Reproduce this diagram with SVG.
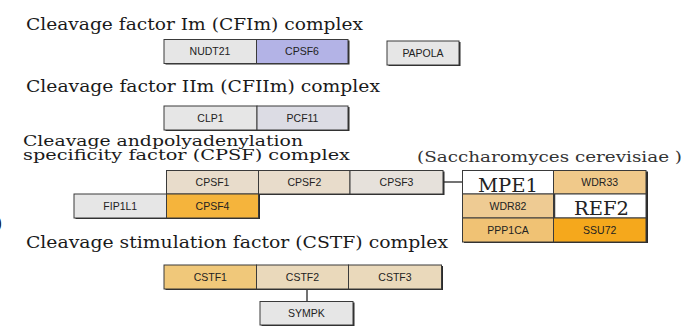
<svg xmlns="http://www.w3.org/2000/svg" width="695" height="335" viewBox="0 0 695 335">
<style>
.t{font-family:"DejaVu Serif","Liberation Serif",serif;font-size:16px;fill:#1a1a1a}
.t2{font-family:"DejaVu Serif","Liberation Serif",serif;font-size:15px;fill:#1a1a1a}
.sp{font-family:"DejaVu Serif","Liberation Serif",serif;font-size:14px;fill:#333}
.big{font-family:"DejaVu Serif","Liberation Serif",serif;font-size:18px;fill:#222;text-anchor:middle}
.lb{font-family:"Liberation Sans",Arial,sans-serif;font-size:10.5px;fill:#222;text-anchor:middle}
.b{stroke:#3a3a3a;stroke-width:1}
.sh{fill:#2a2a2a}
.gray{fill:#e6e6e6}
.c{stroke:#444;stroke-width:1.5;fill:none}
</style>
<rect width="695" height="335" fill="#ffffff"/>
<g id="titles">
<text class="t" x="26" y="29.5" textLength="337" lengthAdjust="spacingAndGlyphs">Cleavage factor Im (CFIm) complex</text>
<text class="t" x="26" y="92" textLength="354" lengthAdjust="spacingAndGlyphs">Cleavage factor IIm (CFIIm) complex</text>
<text class="t2" x="23" y="145.5" textLength="280" lengthAdjust="spacingAndGlyphs">Cleavage andpolyadenylation</text>
<text class="t2" x="23" y="159.5" textLength="327" lengthAdjust="spacingAndGlyphs">specificity factor (CPSF) complex</text>
<text class="sp" x="417" y="161.5" textLength="265" lengthAdjust="spacingAndGlyphs">(Saccharomyces cerevisiae )</text>
<text class="t" x="26" y="248" textLength="422" lengthAdjust="spacingAndGlyphs">Cleavage stimulation factor (CSTF) complex</text>
<text class="t" x="-4" y="229" font-size="18">)</text>
</g>
<g id="connectors">
<line class="c" x1="443" y1="182" x2="463" y2="182"/>
<line class="c" x1="307" y1="289" x2="307" y2="302"/>
</g>
<g id="cfim">
<rect class="sh" x="165.5" y="40.5" width="184" height="24"/>
<g id="NUDT21"><rect class="b gray" x="164" y="39.5" width="92.5" height="24"/><text class="lb" x="210" y="55">NUDT21</text></g>
<g id="CPSF6"><rect class="b" fill="#b3b3e6" x="256.5" y="39.5" width="91.5" height="24"/><text class="lb" x="302" y="55">CPSF6</text></g>
</g>
<g id="PAPOLA">
<rect class="sh" x="388.5" y="42" width="72" height="24"/>
<rect class="b gray" x="387" y="41" width="72" height="24"/><text class="lb" x="423" y="56.5">PAPOLA</text>
</g>
<g id="cfiim">
<rect class="sh" x="165.5" y="107" width="184" height="24"/>
<g id="CLP1"><rect class="b gray" x="164" y="106" width="93" height="24"/><text class="lb" x="210.5" y="121.5">CLP1</text></g>
<g id="PCF11"><rect class="b" fill="#dcdce4" x="257" y="106" width="91" height="24"/><text class="lb" x="302.5" y="121.5">PCF11</text></g>
</g>
<g id="cpsf">
<rect class="sh" x="168" y="171.5" width="276.5" height="23.5"/>
<rect class="sh" x="75.5" y="195" width="184.5" height="24"/>
<g id="CPSF1"><rect class="b" fill="#e8dccb" x="166.5" y="170.5" width="92" height="23.5"/><text class="lb" x="212.5" y="186">CPSF1</text></g>
<g id="CPSF2"><rect class="b" fill="#e8dccb" x="258.5" y="170.5" width="91.5" height="23.5"/><text class="lb" x="304.3" y="186">CPSF2</text></g>
<g id="CPSF3"><rect class="b" fill="#e6e1db" x="350" y="170.5" width="93" height="23.5"/><text class="lb" x="396.5" y="186">CPSF3</text></g>
<g id="FIP1L1"><rect class="b gray" x="74" y="194" width="92.5" height="24"/><text class="lb" x="120.3" y="209.5">FIP1L1</text></g>
<g id="CPSF4"><rect class="b" fill="#f5b43c" x="166.5" y="194" width="92" height="24"/><text class="lb" x="212.5" y="209.5">CPSF4</text></g>
</g>
<g id="yeast">
<rect class="sh" x="464" y="171.5" width="184" height="71.5"/>
<g id="MPE1"><rect class="b" fill="#ffffff" x="462.5" y="170.5" width="91" height="23.5"/><text class="big" x="508" y="192" textLength="60" lengthAdjust="spacingAndGlyphs">MPE1</text></g>
<g id="WDR33"><rect class="b" fill="#f0c98a" x="553.5" y="170.5" width="92.5" height="23.5"/><text class="lb" x="599.7" y="186">WDR33</text></g>
<g id="WDR82"><rect class="b" fill="#eecb93" x="462.5" y="194" width="91" height="24"/><text class="lb" x="508" y="209.5">WDR82</text></g>
<g id="REF2"><rect class="b" fill="#ffffff" x="553.5" y="194" width="92.5" height="24"/><line x1="554.5" y1="194" x2="554.5" y2="218" stroke="#3a3a3a" stroke-width="1.5"/><text class="big" x="601.5" y="214.5" textLength="55" lengthAdjust="spacingAndGlyphs">REF2</text></g>
<g id="PPP1CA"><rect class="b" fill="#f0c274" x="462.5" y="218" width="91" height="24"/><text class="lb" x="508" y="233.5">PPP1CA</text></g>
<g id="SSU72"><rect class="b" fill="#f5a81c" x="553.5" y="218" width="92.5" height="24"/><text class="lb" x="599.7" y="233.5">SSU72</text></g>
</g>
<g id="cstf">
<rect class="sh" x="165.5" y="266" width="277.5" height="24"/>
<g id="CSTF1"><rect class="b" fill="#f0c87a" x="164" y="265" width="92.5" height="24"/><text class="lb" x="210.3" y="280.5">CSTF1</text></g>
<g id="CSTF2"><rect class="b" fill="#ead9bb" x="256.5" y="265" width="92" height="24"/><text class="lb" x="302.5" y="280.5">CSTF2</text></g>
<g id="CSTF3"><rect class="b" fill="#ead9bb" x="348.5" y="265" width="93" height="24"/><text class="lb" x="395" y="280.5">CSTF3</text></g>
</g>
<g id="SYMPK">
<rect class="sh" x="261.5" y="302.5" width="93" height="23.5"/>
<rect class="b gray" x="260" y="301.5" width="93" height="23.5"/><text class="lb" x="306.5" y="317">SYMPK</text>
</g>
</svg>
